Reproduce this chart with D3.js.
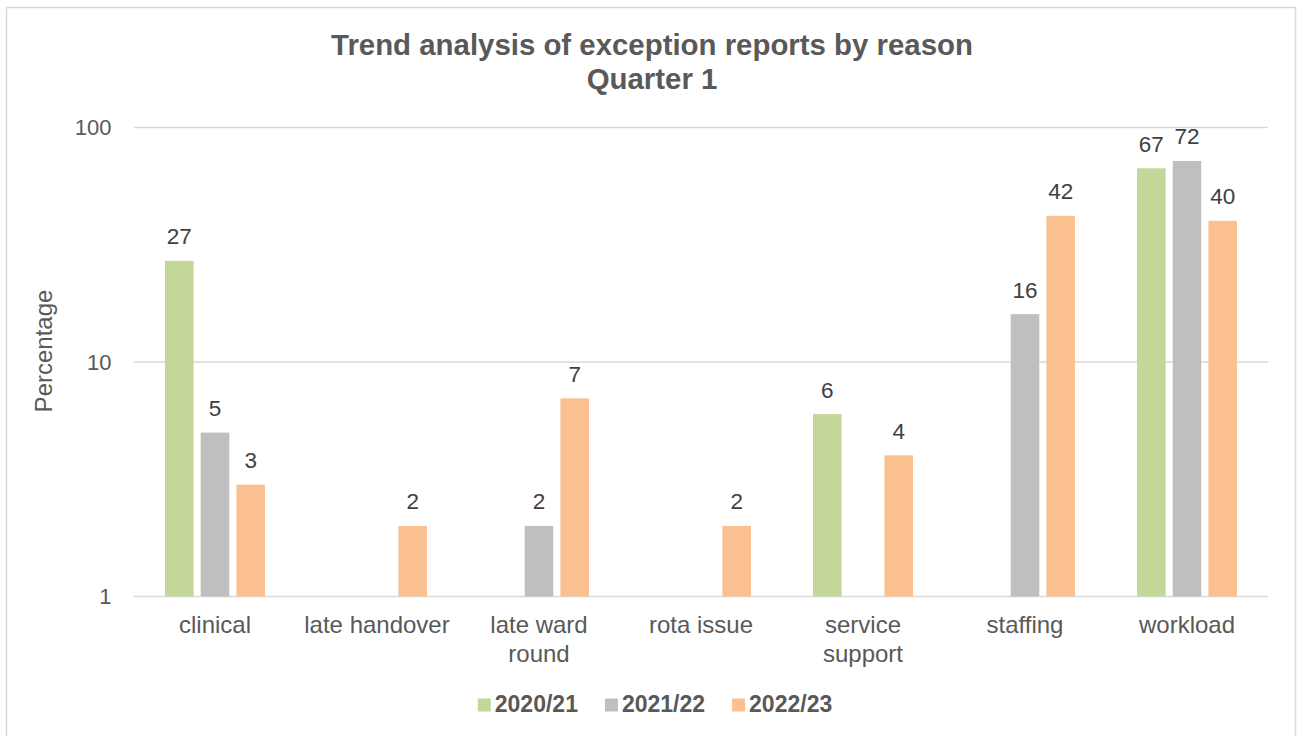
<!DOCTYPE html>
<html>
<head>
<meta charset="utf-8">
<script src="https://cdn.jsdelivr.net/npm/d3@7"></script>
<style>
  html, body { margin: 0; padding: 0; background: #fff; }
  svg { display: block; font-family: "Liberation Sans", Arial, sans-serif; }
</style>
</head>
<body>
<svg id="chart" width="1298" height="736"></svg>
<script>
// Exception reports by reason, Quarter 1 (percentage, log scale)
const categories = [
  ["clinical"],
  ["late handover"],
  ["late ward", "round"],
  ["rota issue"],
  ["service", "support"],
  ["staffing"],
  ["workload"]
];
const seriesNames = ["2020/21", "2021/22", "2022/23"];
const values2020 = [27, null, null, null, 6, null, 67];
const values2021 = [5, null, 2, null, null, 16, 72];
const values2022 = [3, 2, 7, 2, 4, 42, 40];
const seriesColors = ["#C4D79B", "#BFBFBF", "#FAC090"];
const yTicks = [1, 10, 100];
const titleLines = ["Trend analysis of exception reports by reason", "Quarter 1"];
const yAxisLabel = "Percentage";

const seriesValues = [values2020, values2021, values2022];

const svg = d3.select("#chart");
const plot = { left: 134, right: 1268, top: 127.5, bottom: 596.5 };

// chart frame
svg.append("rect")
  .attr("x", 6.5).attr("y", 7.5)
  .attr("width", 1289).attr("height", 740)
  .attr("fill", "#fff")
  .attr("stroke", "#D9D9D9").attr("stroke-width", 1.5);

// scales
const x0 = d3.scaleBand()
  .domain(d3.range(categories.length))
  .range([plot.left, plot.right])
  .paddingInner(0.383)
  .paddingOuter(0.1915);
const x1 = d3.scaleBand()
  .domain(d3.range(seriesNames.length))
  .range([0, x0.bandwidth()])
  .paddingInner(0.2)
  .paddingOuter(0);
const y = d3.scaleLog().domain([1, 100]).range([plot.bottom, plot.top]);

// gridlines
svg.append("g")
  .selectAll("line")
  .data(yTicks)
  .join("line")
  .attr("x1", plot.left).attr("x2", plot.right)
  .attr("y1", d => y(d)).attr("y2", d => y(d))
  .attr("stroke", "#D9D9D9").attr("stroke-width", 1.5);

// y tick labels
svg.append("g")
  .selectAll("text")
  .data(yTicks)
  .join("text")
  .attr("x", 111.5)
  .attr("y", d => y(d) + 7.8)
  .attr("text-anchor", "end")
  .attr("font-size", 22)
  .attr("fill", "#595959")
  .text(d => d);

// y axis title
svg.append("text")
  .attr("transform", "translate(52,351) rotate(-90)")
  .attr("text-anchor", "middle")
  .attr("font-size", 24)
  .attr("fill", "#595959")
  .text(yAxisLabel);

// bars and value labels
const flat = [];
categories.forEach((c, i) => {
  seriesValues.forEach((vals, s) => {
    if (vals[i] != null) flat.push({ cat: i, s, v: vals[i] });
  });
});

svg.append("g")
  .selectAll("rect")
  .data(flat)
  .join("rect")
  .attr("x", d => x0(d.cat) + x1(d.s))
  .attr("y", d => y(d.v))
  .attr("width", x1.bandwidth())
  .attr("height", d => y(1) - y(d.v))
  .attr("fill", d => seriesColors[d.s]);

svg.append("g")
  .selectAll("text")
  .data(flat)
  .join("text")
  .attr("x", d => x0(d.cat) + x1(d.s) + x1.bandwidth() / 2)
  .attr("y", d => y(d.v) - 16.5)
  .attr("text-anchor", "middle")
  .attr("font-size", 22.5)
  .attr("fill", "#404040")
  .text(d => d.v);

// category labels
const catG = svg.append("g")
  .selectAll("text")
  .data(categories)
  .join("text")
  .attr("x", (d, i) => x0(i) + x0.bandwidth() / 2)
  .attr("y", 633)
  .attr("text-anchor", "middle")
  .attr("font-size", 24)
  .attr("fill", "#595959");
catG.selectAll("tspan")
  .data(d => d)
  .join("tspan")
  .attr("x", function () { return d3.select(this.parentNode).attr("x"); })
  .attr("dy", (d, i) => i === 0 ? 0 : 28.5)
  .text(d => d);

// title
svg.append("text")
  .attr("text-anchor", "middle")
  .attr("font-size", 29.4)
  .attr("font-weight", "bold")
  .attr("fill", "#595959")
  .selectAll("tspan")
  .data(titleLines)
  .join("tspan")
  .attr("x", 652)
  .attr("y", (d, i) => 55 + i * 33.5)
  .text(d => d);

// legend
const legend = svg.append("g");
const items = legend.selectAll("g")
  .data(seriesNames)
  .join("g");
items.append("rect")
  .attr("width", 13).attr("height", 13)
  .attr("y", 698.5)
  .attr("fill", (d, i) => seriesColors[i]);
items.append("text")
  .attr("x", 17)
  .attr("y", 711.5)
  .attr("font-size", 23)
  .attr("font-weight", "bold")
  .attr("fill", "#595959")
  .text(d => d);
let offset = 0;
const positions = [];
items.each(function () {
  const w = 17 + d3.select(this).select("text").node().getComputedTextLength();
  positions.push(offset);
  offset += w + 27;
});
const totalW = offset - 27;
const startX = 655 - totalW / 2;
items.attr("transform", (d, i) => `translate(${startX + positions[i]},0)`);
</script>
</body>
</html>
